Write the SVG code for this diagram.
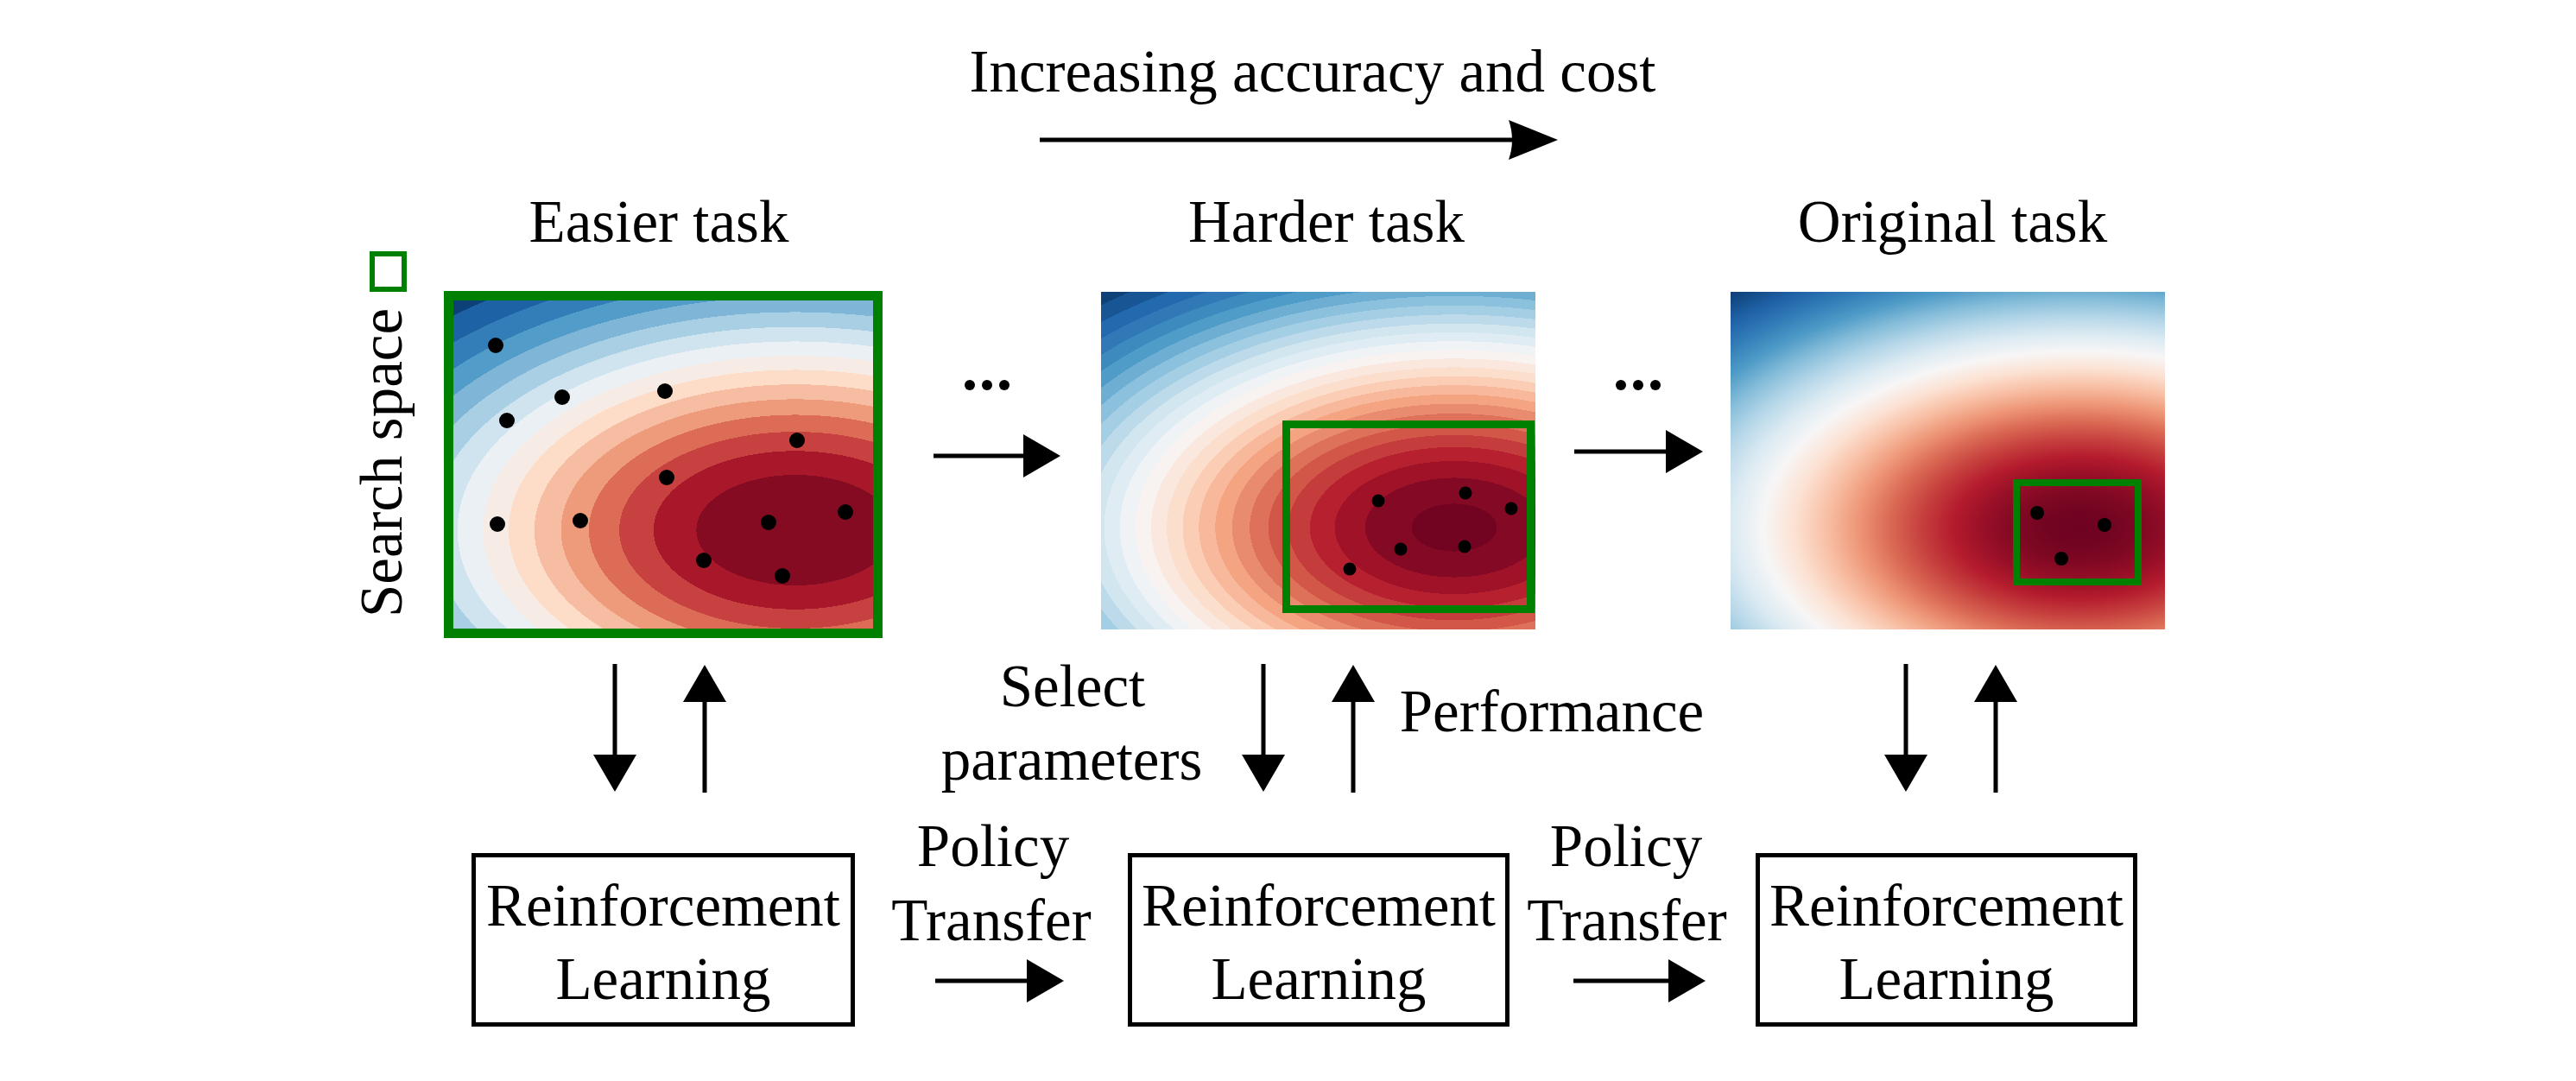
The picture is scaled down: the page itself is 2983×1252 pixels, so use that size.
<svg xmlns="http://www.w3.org/2000/svg" width="2983" height="1252" viewBox="0 0 2983 1252">
<style>
text{font-family:"Liberation Serif","Times New Roman",serif;font-size:69px;fill:#000}
.c{text-anchor:middle}
.ln{stroke:#000;stroke-width:5;fill:none}
.sp{fill:none;stroke:#008000}
.dot{fill:#000}
.box{fill:#fff;stroke:#000;stroke-width:5}
</style>
<defs>
<marker id="ah" viewBox="0 0 43 50" refX="33" refY="25" markerWidth="43" markerHeight="50" markerUnits="userSpaceOnUse" orient="auto"><path d="M0,0 L43,25 L0,50 Z" fill="#000"/></marker>
<marker id="ahL" viewBox="0 0 57 46" refX="47" refY="23" markerWidth="57" markerHeight="46" markerUnits="userSpaceOnUse" orient="auto"><path d="M0,0 L57,23 L0,46 Q8,23 0,0 Z" fill="#000"/></marker>
<radialGradient id="g1" gradientUnits="userSpaceOnUse" cx="0" cy="0" r="400" gradientTransform="translate(921,614) scale(1.79,1)">
<stop offset="0" stop-color="#850b22"/><stop offset=".16" stop-color="#850b22"/>
<stop offset=".16" stop-color="#a8172a"/><stop offset=".2293" stop-color="#a8172a"/>
<stop offset=".2293" stop-color="#c6413f"/><stop offset=".2848" stop-color="#c6413f"/>
<stop offset=".2848" stop-color="#dd6c57"/><stop offset=".3338" stop-color="#dd6c57"/>
<stop offset=".3338" stop-color="#ee9b7c"/><stop offset=".379" stop-color="#ee9b7c"/>
<stop offset=".379" stop-color="#f7bda2"/><stop offset=".422" stop-color="#f7bda2"/>
<stop offset=".422" stop-color="#fddcc8"/><stop offset=".4638" stop-color="#fddcc8"/>
<stop offset=".4638" stop-color="#f7ebe6"/><stop offset=".505" stop-color="#f7ebe6"/>
<stop offset=".505" stop-color="#eaf0f4"/><stop offset=".5463" stop-color="#eaf0f4"/>
<stop offset=".5463" stop-color="#d0e4ef"/><stop offset=".5883" stop-color="#d0e4ef"/>
<stop offset=".5883" stop-color="#a8cfe3"/><stop offset=".6313" stop-color="#a8cfe3"/>
<stop offset=".6313" stop-color="#7fb6d8"/><stop offset=".6763" stop-color="#7fb6d8"/>
<stop offset=".6763" stop-color="#519cc8"/><stop offset=".7238" stop-color="#519cc8"/>
<stop offset=".7238" stop-color="#337eb8"/><stop offset=".7753" stop-color="#337eb8"/>
<stop offset=".7753" stop-color="#1e62a6"/><stop offset=".8318" stop-color="#1e62a6"/>
<stop offset=".8318" stop-color="#0d4077"/><stop offset=".8963" stop-color="#0d4077"/>
<stop offset=".8963" stop-color="#053061"/><stop offset="1" stop-color="#053061"/>
</radialGradient>
<radialGradient id="g2" gradientUnits="userSpaceOnUse" cx="0" cy="0" r="400" gradientTransform="translate(1684,611) scale(1.83,1.02)">
<stop offset="0" stop-color="#720421"/><stop offset=".0675" stop-color="#720421"/>
<stop offset=".0675" stop-color="#840924"/><stop offset=".141" stop-color="#840924"/>
<stop offset=".141" stop-color="#a01228"/><stop offset=".189" stop-color="#a01228"/>
<stop offset=".189" stop-color="#b7212f"/><stop offset=".2283" stop-color="#b7212f"/>
<stop offset=".2283" stop-color="#c43d3c"/><stop offset=".2628" stop-color="#c43d3c"/>
<stop offset=".2628" stop-color="#d25749"/><stop offset=".294" stop-color="#d25749"/>
<stop offset=".294" stop-color="#dd715a"/><stop offset=".3235" stop-color="#dd715a"/>
<stop offset=".3235" stop-color="#e98b6e"/><stop offset=".3513" stop-color="#e98b6e"/>
<stop offset=".3513" stop-color="#f4a481"/><stop offset=".378" stop-color="#f4a481"/>
<stop offset=".378" stop-color="#f7b89b"/><stop offset=".404" stop-color="#f7b89b"/>
<stop offset=".404" stop-color="#fbcdb5"/><stop offset=".4295" stop-color="#fbcdb5"/>
<stop offset=".4295" stop-color="#fcdecc"/><stop offset=".4548" stop-color="#fcdecc"/>
<stop offset=".4548" stop-color="#fae8de"/><stop offset=".4795" stop-color="#fae8de"/>
<stop offset=".4795" stop-color="#f8f3f0"/><stop offset=".5043" stop-color="#f8f3f0"/>
<stop offset=".5043" stop-color="#eff3f6"/><stop offset=".529" stop-color="#eff3f6"/>
<stop offset=".529" stop-color="#e0ecf3"/><stop offset=".5538" stop-color="#e0ecf3"/>
<stop offset=".5538" stop-color="#d2e6f0"/><stop offset=".579" stop-color="#d2e6f0"/>
<stop offset=".579" stop-color="#bcdaea"/><stop offset=".6045" stop-color="#bcdaea"/>
<stop offset=".6045" stop-color="#a4cee3"/><stop offset=".6305" stop-color="#a4cee3"/>
<stop offset=".6305" stop-color="#8bc1dc"/><stop offset=".6573" stop-color="#8bc1dc"/>
<stop offset=".6573" stop-color="#6eaed2"/><stop offset=".6848" stop-color="#6eaed2"/>
<stop offset=".6848" stop-color="#509cc8"/><stop offset=".7133" stop-color="#509cc8"/>
<stop offset=".7133" stop-color="#3c8abe"/><stop offset=".743" stop-color="#3c8abe"/>
<stop offset=".743" stop-color="#3079b6"/><stop offset=".7743" stop-color="#3079b6"/>
<stop offset=".7743" stop-color="#2369ad"/><stop offset=".8073" stop-color="#2369ad"/>
<stop offset=".8073" stop-color="#185594"/><stop offset=".8428" stop-color="#185594"/>
<stop offset=".8428" stop-color="#0e4178"/><stop offset=".8813" stop-color="#0e4178"/>
<stop offset=".8813" stop-color="#053061"/><stop offset="1" stop-color="#053061"/>
</radialGradient>
<radialGradient id="g3" gradientUnits="userSpaceOnUse" cx="0" cy="0" r="400" gradientTransform="translate(2408,611) scale(1.83,1.02)">
<stop offset="0" stop-color="#6e0220"/>
<stop offset=".05" stop-color="#720421"/>
<stop offset=".1" stop-color="#800823"/>
<stop offset=".15" stop-color="#970f27"/>
<stop offset=".2" stop-color="#b41b2d"/>
<stop offset=".25" stop-color="#c6403e"/>
<stop offset=".3" stop-color="#da6954"/>
<stop offset=".35" stop-color="#ee9677"/>
<stop offset=".4" stop-color="#f8bfa4"/>
<stop offset=".45" stop-color="#fce1d2"/>
<stop offset=".5" stop-color="#f7f6f6"/>
<stop offset=".55" stop-color="#dbeaf2"/>
<stop offset=".6" stop-color="#b4d6e8"/>
<stop offset=".65" stop-color="#84bcd9"/>
<stop offset=".7" stop-color="#4f9bc7"/>
<stop offset=".75" stop-color="#337eb8"/>
<stop offset=".8" stop-color="#2063a8"/>
<stop offset=".85" stop-color="#114781"/>
<stop offset=".9" stop-color="#053061"/>
<stop offset="1" stop-color="#053061"/>
</radialGradient>
</defs>
<rect width="2983" height="1252" fill="#fff"/>

<g id="title">
<text class="c" x="1520" y="106">Increasing accuracy and cost</text>
</g>

<g id="legend">
<rect class="sp" x="431" y="294" width="37" height="41" stroke-width="6"/>
<text class="c" transform="translate(465,536) rotate(-90)">Search space</text>
</g>

<g id="easier-task">
<text class="c" x="763" y="280">Easier task</text>
<rect x="519.5" y="342.5" width="497" height="391" fill="url(#g1)"/>
<rect class="sp" x="519.5" y="342.5" width="497" height="391" stroke-width="11"/>
<g class="dot">
<circle cx="574" cy="400" r="9"/><circle cx="651" cy="460" r="9"/><circle cx="587" cy="487" r="9"/>
<circle cx="770" cy="453" r="9"/><circle cx="923" cy="510" r="9"/><circle cx="772" cy="553" r="9"/>
<circle cx="576" cy="607" r="9"/><circle cx="672" cy="603" r="9"/><circle cx="890" cy="605" r="9"/>
<circle cx="979" cy="593" r="9"/><circle cx="815" cy="649" r="9"/><circle cx="906" cy="667" r="9"/>
</g>
</g>

<g id="harder-task">
<text class="c" x="1536" y="280">Harder task</text>
<rect x="1275" y="338" width="503" height="391" fill="url(#g2)"/>
<rect class="sp" x="1489.5" y="491.5" width="283" height="214" stroke-width="9"/>
<g class="dot">
<circle cx="1596" cy="580" r="7.5"/><circle cx="1697" cy="571" r="7.5"/><circle cx="1750" cy="589" r="7.5"/>
<circle cx="1622" cy="636" r="7.5"/><circle cx="1696" cy="633" r="7.5"/><circle cx="1563" cy="659" r="7.5"/>
</g>
</g>

<g id="original-task">
<text class="c" x="2261" y="280">Original task</text>
<rect x="2004" y="338" width="503" height="391" fill="url(#g3)"/>
<rect class="sp" x="2335" y="559" width="141" height="115" stroke-width="8"/>
<g class="dot">
<circle cx="2359" cy="594" r="8"/><circle cx="2437" cy="608" r="8"/><circle cx="2387" cy="647" r="8"/>
</g>
</g>

<g id="rl-1">
<rect class="box" x="548.5" y="990.5" width="439" height="196"/>
<text class="c" x="768" y="1072">Reinforcement</text>
<text class="c" x="768" y="1157">Learning</text>
</g>
<g id="rl-2">
<rect class="box" x="1308.5" y="990.5" width="437" height="196"/>
<text class="c" x="1527" y="1072">Reinforcement</text>
<text class="c" x="1527" y="1157">Learning</text>
</g>
<g id="rl-3">
<rect class="box" x="2035.5" y="990.5" width="437" height="196"/>
<text class="c" x="2254" y="1072">Reinforcement</text>
<text class="c" x="2254" y="1157">Learning</text>
</g>

<g id="labels">
<text class="c" x="1242" y="818">Select</text>
<text class="c" x="1241" y="903">parameters</text>
<text class="c" x="1797" y="847">Performance</text>
<text class="c" x="1150" y="1003">Policy</text>
<text class="c" x="1148" y="1089">Transfer</text>
<text class="c" x="1883" y="1003">Policy</text>
<text class="c" x="1884" y="1089">Transfer</text>
<g class="dot">
<circle cx="1123" cy="446" r="6"/><circle cx="1143" cy="446" r="6"/><circle cx="1163" cy="446" r="6"/>
<circle cx="1877" cy="446" r="6"/><circle cx="1897" cy="446" r="6"/><circle cx="1917" cy="446" r="6"/>
</g>
</g>

<g id="connectors">
<line class="ln" x1="1204" y1="162" x2="1794" y2="162" marker-end="url(#ahL)"/>
<line class="ln" x1="1081" y1="528" x2="1218" y2="528" marker-end="url(#ah)"/>
<line class="ln" x1="1823" y1="523" x2="1962" y2="523" marker-end="url(#ah)"/>
<line class="ln" x1="712" y1="769" x2="712" y2="907" marker-end="url(#ah)"/>
<line class="ln" x1="816" y1="918" x2="816" y2="780" marker-end="url(#ah)"/>
<line class="ln" x1="1463" y1="769" x2="1463" y2="907" marker-end="url(#ah)"/>
<line class="ln" x1="1567" y1="918" x2="1567" y2="780" marker-end="url(#ah)"/>
<line class="ln" x1="2207" y1="769" x2="2207" y2="907" marker-end="url(#ah)"/>
<line class="ln" x1="2311" y1="918" x2="2311" y2="780" marker-end="url(#ah)"/>
<line class="ln" x1="1083" y1="1136" x2="1222" y2="1136" marker-end="url(#ah)"/>
<line class="ln" x1="1822" y1="1136" x2="1965" y2="1136" marker-end="url(#ah)"/>
</g>
</svg>
